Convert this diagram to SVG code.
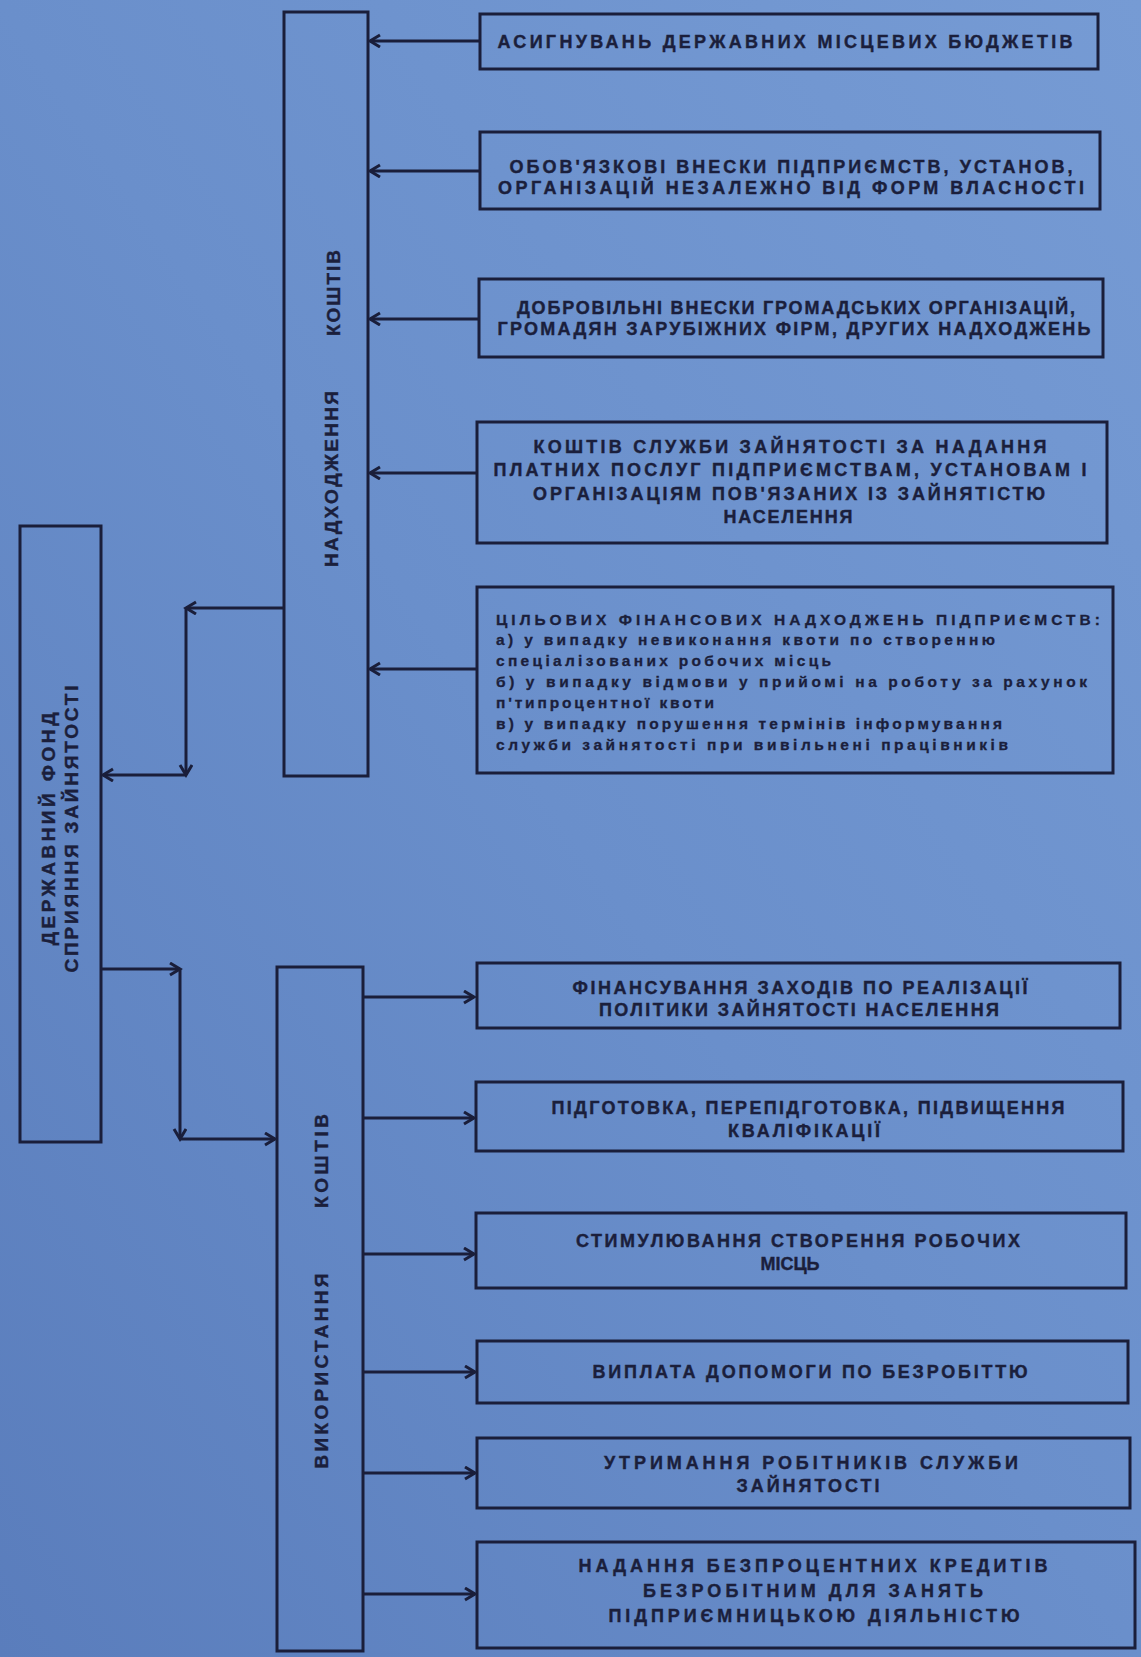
<svg xmlns="http://www.w3.org/2000/svg" width="1141" height="1657" viewBox="0 0 1141 1657">
<defs>
<linearGradient id="bg" x1="1" y1="0" x2="0" y2="1">
<stop offset="0" stop-color="#769bd4"/>
<stop offset="0.5" stop-color="#6a8fcb"/>
<stop offset="1" stop-color="#5a7dbc"/>
</linearGradient>
<marker id="ah" markerUnits="userSpaceOnUse" markerWidth="16" markerHeight="16" refX="11" refY="7" orient="auto">
<path d="M1,1 L11,7 L1,13" fill="none" stroke="#1a1e3a" stroke-width="3"/>
</marker>
<style>
.box{fill:none;stroke:#1a1e3a;stroke-width:3}
.t{font-family:"Liberation Sans",Arial,sans-serif;font-weight:bold;font-size:18px;fill:#1b1f3c;stroke:#1b1f3c;stroke-width:0.4;text-anchor:middle}
.tl{font-family:"Liberation Sans",Arial,sans-serif;font-weight:bold;font-size:15.5px;fill:#1b1f3c;stroke:#1b1f3c;stroke-width:0.3}
.v{font-family:"Liberation Sans",Arial,sans-serif;font-weight:bold;font-size:19px;fill:#1b1f3c;stroke:#1b1f3c;stroke-width:0.4;text-anchor:middle}
.c{fill:none;stroke:#1a1e3a;stroke-width:3}
</style>
</defs>
<rect x="0" y="0" width="1141" height="1657" fill="url(#bg)"/>

<g id="fund">
<rect class="box" x="20" y="526" width="81" height="616"/>
<text class="v" transform="translate(55,829) rotate(-90)" textLength="233" lengthAdjust="spacing">ДЕРЖАВНИЙ ФОНД</text>
<text class="v" transform="translate(78,829) rotate(-90)" textLength="287" lengthAdjust="spacing">СПРИЯННЯ ЗАЙНЯТОСТІ</text>
</g>

<g id="income">
<rect class="box" x="284" y="12" width="84" height="764"/>
<text class="v" transform="translate(338,479) rotate(-90)" textLength="176" lengthAdjust="spacing">НАДХОДЖЕННЯ</text>
<text class="v" transform="translate(340,293) rotate(-90)" textLength="86" lengthAdjust="spacing">КОШТІВ</text>
</g>

<g id="usage">
<rect class="box" x="277" y="967" width="86" height="684"/>
<text class="v" transform="translate(328,1371) rotate(-90)" textLength="195" lengthAdjust="spacing">ВИКОРИСТАННЯ</text>
<text class="v" transform="translate(328,1161) rotate(-90)" textLength="94" lengthAdjust="spacing">КОШТІВ</text>
</g>

<g id="in1">
<rect class="box" x="480" y="14" width="618" height="55"/>
<text class="t" x="785" y="48" textLength="575" lengthAdjust="spacing">АСИГНУВАНЬ ДЕРЖАВНИХ МІСЦЕВИХ БЮДЖЕТІВ</text>
</g>
<g id="in2">
<rect class="box" x="480" y="132" width="620" height="77"/>
<text class="t" x="791" y="173" textLength="563" lengthAdjust="spacing">ОБОВ'ЯЗКОВІ ВНЕСКИ ПІДПРИЄМСТВ, УСТАНОВ,</text>
<text class="t" x="791" y="194" textLength="586" lengthAdjust="spacing">ОРГАНІЗАЦІЙ НЕЗАЛЕЖНО ВІД ФОРМ ВЛАСНОСТІ</text>
</g>
<g id="in3">
<rect class="box" x="479" y="279" width="624" height="78"/>
<text class="t" x="796" y="314" textLength="558" lengthAdjust="spacing">ДОБРОВІЛЬНІ ВНЕСКИ ГРОМАДСЬКИХ ОРГАНІЗАЦІЙ,</text>
<text class="t" x="794" y="335" textLength="593" lengthAdjust="spacing">ГРОМАДЯН ЗАРУБІЖНИХ ФІРМ, ДРУГИХ НАДХОДЖЕНЬ</text>
</g>
<g id="in4">
<rect class="box" x="477" y="422" width="630" height="121"/>
<text class="t" x="790" y="453" textLength="513" lengthAdjust="spacing">КОШТІВ СЛУЖБИ ЗАЙНЯТОСТІ ЗА НАДАННЯ</text>
<text class="t" x="790" y="476" textLength="593" lengthAdjust="spacing">ПЛАТНИХ ПОСЛУГ ПІДПРИЄМСТВАМ, УСТАНОВАМ І</text>
<text class="t" x="789" y="500" textLength="512" lengthAdjust="spacing">ОРГАНІЗАЦІЯМ ПОВ'ЯЗАНИХ ІЗ ЗАЙНЯТІСТЮ</text>
<text class="t" x="788" y="523" textLength="129" lengthAdjust="spacing">НАСЕЛЕННЯ</text>
</g>
<g id="in5">
<rect class="box" x="477" y="587" width="636" height="186"/>
<text class="tl" x="496" y="625" font-size="17" textLength="604" lengthAdjust="spacing">ЦІЛЬОВИХ ФІНАНСОВИХ НАДХОДЖЕНЬ ПІДПРИЄМСТВ:</text>
<text class="tl" x="496" y="645" textLength="499" lengthAdjust="spacing">а) у випадку невиконання квоти по створенню</text>
<text class="tl" x="496" y="666" textLength="335" lengthAdjust="spacing">спеціалізованих робочих місць</text>
<text class="tl" x="496" y="687" textLength="591" lengthAdjust="spacing">б) у випадку відмови у прийомі на роботу за рахунок</text>
<text class="tl" x="496" y="708" textLength="218" lengthAdjust="spacing">п'типроцентної квоти</text>
<text class="tl" x="496" y="729" textLength="506" lengthAdjust="spacing">в) у випадку порушення термінів інформування</text>
<text class="tl" x="496" y="750" textLength="512" lengthAdjust="spacing">служби зайнятості при вивільнені працівників</text>
</g>

<g id="out1">
<rect class="box" x="477" y="963" width="643" height="65"/>
<text class="t" x="800" y="994" textLength="455" lengthAdjust="spacing">ФІНАНСУВАННЯ ЗАХОДІВ ПО РЕАЛІЗАЦІЇ</text>
<text class="t" x="799" y="1016" textLength="400" lengthAdjust="spacing">ПОЛІТИКИ ЗАЙНЯТОСТІ НАСЕЛЕННЯ</text>
</g>
<g id="out2">
<rect class="box" x="476" y="1082" width="647" height="69"/>
<text class="t" x="808" y="1114" textLength="513" lengthAdjust="spacing">ПІДГОТОВКА, ПЕРЕПІДГОТОВКА, ПІДВИЩЕННЯ</text>
<text class="t" x="804" y="1137" textLength="152" lengthAdjust="spacing">КВАЛІФІКАЦІЇ</text>
</g>
<g id="out3">
<rect class="box" x="476" y="1213" width="650" height="75"/>
<text class="t" x="798" y="1247" textLength="444" lengthAdjust="spacing">СТИМУЛЮВАННЯ СТВОРЕННЯ РОБОЧИХ</text>
<text class="t" x="790" y="1270">МІСЦЬ</text>
</g>
<g id="out4">
<rect class="box" x="477" y="1341" width="651" height="62"/>
<text class="t" x="810" y="1378" textLength="435" lengthAdjust="spacing">ВИПЛАТА ДОПОМОГИ ПО БЕЗРОБІТТЮ</text>
</g>
<g id="out5">
<rect class="box" x="477" y="1438" width="653" height="70"/>
<text class="t" x="811" y="1469" textLength="414" lengthAdjust="spacing">УТРИМАННЯ РОБІТНИКІВ СЛУЖБИ</text>
<text class="t" x="808" y="1492" textLength="143" lengthAdjust="spacing">ЗАЙНЯТОСТІ</text>
</g>
<g id="out6">
<rect class="box" x="477" y="1542" width="658" height="106"/>
<text class="t" x="813" y="1572" textLength="469" lengthAdjust="spacing">НАДАННЯ БЕЗПРОЦЕНТНИХ КРЕДИТІВ</text>
<text class="t" x="813" y="1597" textLength="340" lengthAdjust="spacing">БЕЗРОБІТНИМ ДЛЯ ЗАНЯТЬ</text>
<text class="t" x="814" y="1622" textLength="411" lengthAdjust="spacing">ПІДПРИЄМНИЦЬКОЮ ДІЯЛЬНІСТЮ</text>
</g>

<g id="connectors">
<line class="c" x1="480" y1="41" x2="370" y2="41" marker-end="url(#ah)"/>
<line class="c" x1="480" y1="171" x2="370" y2="171" marker-end="url(#ah)"/>
<line class="c" x1="479" y1="319" x2="370" y2="319" marker-end="url(#ah)"/>
<line class="c" x1="477" y1="473" x2="370" y2="473" marker-end="url(#ah)"/>
<line class="c" x1="477" y1="669" x2="370" y2="669" marker-end="url(#ah)"/>

<line class="c" x1="284" y1="608" x2="186" y2="608" marker-end="url(#ah)"/>
<line class="c" x1="186" y1="608" x2="186" y2="775" marker-end="url(#ah)"/>
<line class="c" x1="186" y1="775" x2="103" y2="775" marker-end="url(#ah)"/>

<line class="c" x1="101" y1="969" x2="180" y2="969" marker-end="url(#ah)"/>
<line class="c" x1="180" y1="969" x2="180" y2="1139" marker-end="url(#ah)"/>
<line class="c" x1="180" y1="1139" x2="275" y2="1139" marker-end="url(#ah)"/>

<line class="c" x1="363" y1="997" x2="474" y2="997" marker-end="url(#ah)"/>
<line class="c" x1="363" y1="1118" x2="474" y2="1118" marker-end="url(#ah)"/>
<line class="c" x1="363" y1="1254" x2="474" y2="1254" marker-end="url(#ah)"/>
<line class="c" x1="363" y1="1372" x2="475" y2="1372" marker-end="url(#ah)"/>
<line class="c" x1="363" y1="1473" x2="475" y2="1473" marker-end="url(#ah)"/>
<line class="c" x1="363" y1="1594" x2="475" y2="1594" marker-end="url(#ah)"/>
</g>
</svg>
